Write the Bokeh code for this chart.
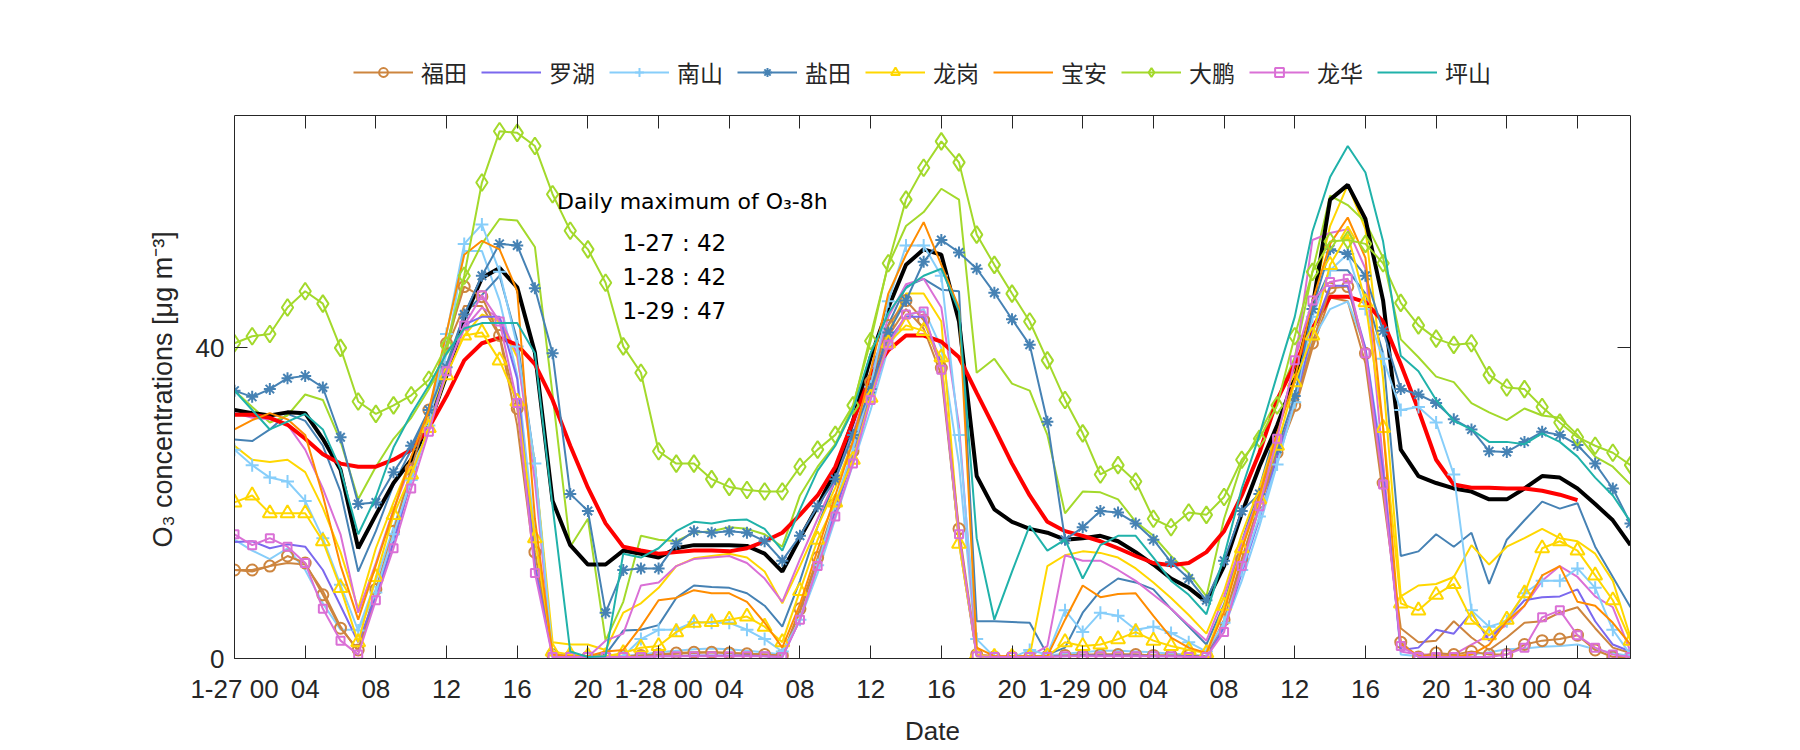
import math
from bokeh.plotting import figure
from bokeh.models import (ColumnDataSource, FixedTicker, LinearAxis, Legend,
                          LegendItem, Range1d, Label, Title)
from bokeh.embed import file_html
from bokeh.resources import INLINE

# ---------------- data (hours since 1-27 00:00) ----------------
hours = list(range(80))

fu_tian = [11.4, 11.4, 11.9, 13.2, 12.3, 8.2, 3.9, 1.1, 8.9, 16.4, 24.4, 32.0, 40.6, 47.9, 46.6, 41.6, 32.2, 13.7, 0.5, 0.2,
           0.2, 0.2, 0.3, 0.4, 0.5, 0.7, 0.8, 0.8, 0.7, 0.6, 0.5, 0.4, 6.4, 13.0, 19.9, 26.7, 35.6, 42.9, 46.1, 43.6,
           37.4, 16.7, 0.5, 0.2, 0.2, 0.2, 0.3, 0.4, 0.4, 0.5, 0.5, 0.5, 0.4, 0.4, 0.4, 0.3, 5.0, 12.8, 20.1, 26.5,
           32.6, 40.6, 47.7, 47.9, 39.3, 22.6, 2.1, 0.2, 0.7, 0.5, 0.9, 0.5, 0.5, 1.8, 2.3, 2.5, 3.0, 1.1, 0.2, 0.2]
luo_hu = [15.0, 15.1, 14.2, 14.7, 14.4, 11.4, 6.8, 2.1, 8.0, 15.0, 23.0, 30.0, 37.0, 43.0, 44.0, 44.0, 36.0, 12.0, 0.3, 0.2,
          0.2, 0.2, 0.2, 0.2, 0.3, 0.3, 0.4, 0.4, 0.4, 0.4, 0.3, 0.2, 5.0, 12.0, 19.0, 26.0, 34.0, 41.0, 44.0, 44.0,
          38.0, 15.0, 0.3, 0.2, 0.2, 0.2, 0.3, 0.3, 0.4, 0.4, 0.4, 0.4, 0.3, 0.3, 0.3, 0.2, 4.0, 11.0, 18.0, 26.0,
          33.0, 42.0, 48.0, 48.0, 40.0, 24.0, 1.1, 1.4, 3.7, 3.2, 5.9, 2.3, 5.0, 7.5, 7.9, 8.0, 8.9, 4.8, 1.8, 0.9]
nan_shan = [26.9, 24.9, 23.3, 22.8, 20.3, 15.5, 9.5, 3.6, 8.5, 16.0, 23.0, 30.0, 41.8, 53.4, 55.9, 49.8, 40.2, 25.1, 0.5, 0.3,
            0.2, 0.2, 0.3, 2.5, 3.7, 3.7, 4.7, 4.6, 4.6, 3.7, 2.5, 0.9, 5.0, 12.0, 20.0, 27.0, 35.0, 46.0, 53.2, 53.2,
            49.3, 28.8, 2.5, 0.2, 0.1, 1.1, 0.5, 6.2, 3.4, 5.9, 5.5, 3.7, 4.1, 3.3, 2.1, 0.9, 4.6, 11.4, 18.3, 25.0,
            33.0, 44.0, 50.0, 52.1, 45.0, 38.6, 32.0, 32.4, 30.4, 23.7, 6.2, 4.1, 4.8, 8.4, 10.0, 10.0, 11.6, 9.1, 3.7, 0.5]
yan_tian = [34.5, 33.7, 34.7, 36.1, 36.4, 34.9, 28.5, 19.9, 20.1, 24.0, 27.4, 32.0, 37.5, 44.3, 49.3, 53.4, 53.2, 47.7, 39.3, 21.2,
            19.0, 5.9, 11.4, 11.6, 11.6, 14.8, 16.4, 16.2, 16.4, 16.2, 15.1, 12.6, 15.8, 19.6, 23.1, 28.8, 34.7, 42.0, 46.1, 51.1,
            53.9, 52.3, 50.2, 47.1, 43.7, 40.4, 30.5, 15.3, 16.9, 19.0, 18.8, 17.4, 15.3, 12.4, 10.3, 7.5, 12.6, 19.0, 21.2, 27.0,
            33.8, 45.0, 52.7, 52.1, 49.3, 42.2, 34.7, 34.0, 32.9, 30.8, 29.5, 26.7, 26.6, 27.9, 29.2, 28.8, 27.5, 25.1, 21.9, 17.4]
long_gang = [20.1, 21.0, 18.7, 18.7, 18.7, 15.1, 9.1, 2.1, 10.5, 18.5, 23.7, 29.7, 36.5, 41.6, 42.0, 38.4, 33.1, 15.5, 0.9, 0.5,
             0.3, 0.3, 0.7, 1.4, 1.6, 3.4, 4.6, 4.7, 5.0, 5.4, 4.1, 2.1, 8.7, 15.3, 20.1, 25.6, 33.6, 40.6, 42.9, 42.2,
             38.8, 14.8, 0.5, 0.2, 0.2, 0.2, 0.3, 2.1, 1.6, 1.8, 2.5, 3.4, 2.3, 1.6, 1.1, 0.7, 6.8, 14.2, 20.5, 27.4,
             35.6, 41.6, 50.7, 54.6, 45.9, 29.7, 7.1, 6.2, 8.2, 9.6, 5.0, 3.0, 5.0, 8.4, 14.2, 15.1, 13.9, 10.7, 7.5, 2.3]
bao_an = [29.5, 30.7, 31.6, 30.8, 28.8, 21.0, 12.0, 5.0, 12.0, 19.0, 26.0, 32.0, 42.0, 52.0, 53.8, 52.7, 47.3, 18.0, 0.5, 0.3,
          0.3, 0.9, 1.1, 4.1, 7.5, 7.8, 8.8, 8.4, 8.4, 7.3, 4.6, 1.4, 7.0, 14.0, 21.0, 28.0, 37.0, 47.0, 52.0, 56.2,
          50.7, 45.2, 1.4, 0.3, 0.3, 0.3, 0.3, 5.0, 9.4, 7.9, 8.3, 8.4, 5.5, 2.7, 1.4, 0.7, 6.0, 14.0, 21.0, 29.0,
          36.0, 46.0, 53.4, 56.8, 51.6, 29.7, 1.8, 0.3, 0.3, 0.3, 0.5, 1.8, 4.8, 6.8, 10.7, 11.9, 7.3, 6.8, 4.6, 1.8]
da_peng = [40.6, 41.5, 41.8, 45.2, 47.3, 45.7, 40.0, 33.1, 31.5, 32.6, 33.9, 35.9, 40.3, 49.3, 61.3, 67.9, 67.7, 66.0, 59.8, 55.1,
           52.7, 48.4, 40.2, 36.8, 26.7, 25.1, 25.1, 23.1, 22.1, 21.7, 21.5, 21.5, 24.7, 26.9, 28.8, 32.6, 40.9, 50.9, 59.1, 63.2,
           66.6, 63.9, 54.6, 50.7, 47.0, 43.4, 38.4, 33.3, 29.0, 23.7, 24.9, 22.8, 18.0, 16.9, 18.8, 18.5, 20.8, 25.6, 28.3, 32.6,
           41.5, 49.8, 53.7, 53.9, 53.4, 50.9, 45.8, 42.9, 41.2, 40.4, 40.6, 36.5, 34.9, 34.7, 32.4, 30.4, 28.5, 27.4, 26.5, 24.9]
long_hua = [16.0, 14.6, 15.5, 14.4, 12.3, 6.4, 2.3, 0.5, 7.5, 14.2, 21.9, 29.2, 37.0, 42.9, 46.8, 43.4, 32.9, 11.0, 0.2, 0.2,
            0.2, 0.2, 0.2, 0.2, 0.3, 0.3, 0.3, 0.3, 0.3, 0.3, 0.3, 0.2, 5.0, 11.9, 18.3, 25.1, 33.3, 40.4, 44.3, 44.7,
            37.2, 16.0, 0.3, 0.2, 0.2, 0.2, 0.2, 0.3, 0.3, 0.3, 0.3, 0.3, 0.3, 0.3, 0.2, 0.2, 3.4, 11.9, 19.6, 28.3,
            38.4, 46.1, 48.5, 48.9, 39.3, 22.4, 1.6, 0.2, 0.2, 0.2, 0.2, 0.2, 0.5, 1.4, 5.3, 6.2, 3.0, 1.4, 0.5, 0.2]
ping_shan = [34.5, 32.0, 29.5, 30.5, 31.5, 29.5, 24.4, 16.0, 20.8, 27.2, 31.5, 35.2, 39.3, 42.5, 43.2, 43.2, 43.2, 39.3, 19.6, 0.9,
             0.2, 0.3, 13.5, 13.0, 14.2, 16.4, 17.6, 17.4, 17.8, 17.9, 16.7, 13.9, 19.2, 24.2, 27.4, 32.0, 39.3, 44.5, 47.7, 49.3,
             50.2, 44.7, 15.5, 5.0, 11.2, 17.1, 13.9, 15.3, 10.3, 14.6, 15.8, 15.8, 13.0, 10.0, 8.2, 5.7, 13.2, 21.9, 28.8, 36.5,
             44.0, 55.0, 62.0, 66.0, 62.6, 53.7, 39.0, 37.0, 33.3, 30.6, 29.5, 27.9, 27.9, 27.6, 29.0, 27.9, 26.0, 23.3, 21.0, 17.6]

# second set of station curves (plain lines, same colours)
da_peng_2 = [34.5, 32.4, 30.4, 31.3, 34.0, 33.3, 28.0, 20.5, 24.7, 28.3, 31.0, 34.7, 39.7, 48.9, 53.4, 56.6, 56.4, 53.0, 34.0, 14.4,
             18.0, 2.3, 7.3, 15.8, 15.3, 15.1, 16.2, 16.4, 16.9, 16.7, 16.0, 14.4, 21.0, 24.7, 27.6, 32.4, 41.6, 50.7, 55.7, 57.5,
             60.5, 59.1, 36.8, 38.6, 35.4, 34.5, 28.8, 18.7, 21.5, 21.4, 20.5, 17.6, 15.8, 13.2, 11.0, 8.0, 18.0, 25.1, 29.0, 33.3,
             38.8, 49.8, 59.6, 58.4, 56.2, 51.6, 41.1, 38.8, 36.3, 35.6, 32.9, 31.7, 30.7, 32.2, 31.3, 31.0, 28.8, 26.0, 24.7, 22.4]
yan_tian_2 = [28.2, 28.0, 29.5, 31.5, 30.6, 27.4, 21.5, 11.2, 16.4, 22.4, 26.9, 32.0, 37.9, 44.3, 46.8, 49.3, 41.0, 25.0, 0.5, 0.3,
              0.3, 0.5, 3.6, 3.7, 4.3, 7.8, 9.4, 9.2, 9.1, 8.4, 6.8, 4.1, 10.0, 17.0, 23.0, 30.0, 37.0, 43.0, 47.9, 48.9,
              47.5, 47.3, 4.8, 4.8, 4.7, 4.6, 0.5, 1.4, 5.9, 8.7, 10.3, 9.8, 8.9, 6.4, 4.1, 1.8, 7.0, 15.0, 22.0, 30.0,
              37.0, 45.0, 50.0, 50.0, 47.0, 39.3, 13.2, 13.8, 16.0, 14.4, 16.2, 9.6, 15.3, 17.8, 20.2, 19.3, 20.0, 14.4, 10.5, 6.6]
long_gang_2 = [27.4, 25.6, 25.3, 25.6, 24.0, 19.4, 13.7, 6.4, 14.2, 20.1, 25.6, 31.0, 37.0, 41.6, 44.3, 43.4, 38.8, 25.0, 2.1, 1.8,
               1.8, 1.1, 5.9, 7.1, 9.1, 11.9, 12.9, 13.2, 13.5, 13.0, 11.2, 7.1, 11.9, 17.0, 22.0, 28.0, 35.0, 42.0, 47.0, 47.0,
               43.4, 15.5, 0.5, 0.3, 0.3, 0.3, 11.9, 13.3, 13.8, 13.6, 13.0, 11.6, 9.8, 7.8, 5.6, 3.2, 8.7, 16.0, 22.0, 29.0,
               37.0, 46.0, 55.7, 61.0, 55.3, 36.0, 8.0, 9.4, 9.6, 10.5, 14.6, 12.1, 14.4, 15.5, 16.7, 15.5, 15.1, 13.5, 10.0, 2.7]
long_hua_2 = [31.6, 31.0, 30.8, 30.1, 26.9, 21.9, 16.0, 5.9, 12.3, 19.2, 25.1, 30.6, 36.5, 42.5, 45.2, 43.8, 39.3, 22.8, 0.2, 0.2,
              0.2, 2.3, 3.2, 9.4, 9.8, 11.9, 12.8, 13.0, 13.2, 12.3, 10.3, 7.3, 12.8, 18.0, 23.0, 29.0, 36.0, 44.0, 48.2, 48.9,
              45.2, 30.0, 0.5, 0.3, 0.3, 0.3, 1.6, 13.3, 12.6, 12.6, 11.4, 10.0, 8.2, 6.4, 4.3, 2.3, 8.0, 15.0, 21.0, 29.0,
              37.9, 53.9, 54.8, 55.3, 50.2, 25.1, 0.9, 0.5, 0.5, 0.5, 1.8, 3.0, 4.3, 6.8, 10.0, 11.9, 10.5, 8.0, 6.6, 0.9]
nan_shan_2 = [15.3, 13.9, 12.8, 14.2, 11.4, 7.1, 3.7, 3.7, 10.0, 16.9, 23.7, 30.6, 39.3, 52.5, 52.5, 46.1, 36.5, 16.0, 0.2, 0.2,
              0.2, 0.3, 0.3, 0.5, 0.8, 1.0, 1.2, 1.3, 1.2, 1.0, 0.8, 0.5, 5.0, 11.0, 18.0, 25.0, 32.0, 40.0, 44.0, 45.0,
              40.0, 25.0, 0.5, 0.3, 0.3, 0.3, 0.4, 0.6, 0.8, 1.0, 1.0, 0.9, 0.8, 0.6, 0.5, 0.3, 4.0, 10.0, 17.0, 25.0,
              33.0, 41.0, 45.0, 46.0, 40.0, 25.0, 0.5, 0.3, 0.3, 0.3, 0.5, 0.8, 1.2, 1.3, 1.5, 1.6, 1.8, 1.2, 0.7, 0.3]
fu_tian_2 = [11.4, 11.2, 11.9, 12.3, 12.1, 8.7, 4.1, 0.9, 8.0, 15.0, 23.0, 31.0, 40.0, 45.4, 45.4, 41.5, 30.0, 12.0, 0.5, 0.3,
             0.3, 0.3, 0.3, 0.4, 0.5, 0.6, 0.7, 0.8, 0.7, 0.6, 0.5, 0.4, 6.0, 12.5, 19.5, 26.0, 34.5, 41.5, 45.0, 42.5,
             36.5, 15.5, 0.4, 0.3, 0.3, 0.3, 0.3, 0.4, 0.5, 0.5, 0.5, 0.5, 0.4, 0.4, 0.4, 0.3, 4.5, 12.0, 19.5, 26.0,
             32.0, 40.0, 46.5, 46.0, 38.0, 21.0, 3.9, 2.1, 2.3, 4.8, 2.7, 1.1, 2.7, 4.6, 4.8, 5.9, 6.6, 3.9, 1.4, 0.7]

black_mean = [32.0, 31.6, 31.3, 31.7, 31.6, 28.3, 24.3, 14.2, 18.5, 22.6, 25.6, 30.0, 36.5, 43.8, 49.0, 50.3, 47.8, 39.4, 20.3, 14.6,
              12.1, 12.1, 13.9, 13.5, 13.0, 14.2, 14.6, 14.6, 14.6, 14.5, 13.5, 11.2, 15.5, 19.6, 24.2, 30.6, 38.8, 45.2, 50.7, 52.7,
              52.0, 43.4, 23.5, 19.2, 17.6, 16.7, 16.2, 15.3, 15.5, 15.8, 15.1, 13.7, 12.1, 10.3, 9.1, 7.3, 11.9, 18.7, 24.7, 30.0,
              36.0, 45.2, 59.1, 61.0, 56.6, 46.1, 26.9, 23.5, 22.6, 21.9, 21.5, 20.5, 20.5, 21.9, 23.5, 23.3, 21.9, 19.9, 17.8, 14.6]
red_8h = [31.4, 31.4, 31.0, 30.1, 28.3, 26.3, 25.1, 24.7, 24.7, 25.6, 26.9, 29.7, 33.8, 38.4, 40.6, 41.3, 40.4, 37.9, 33.3, 27.4,
          22.0, 17.4, 14.4, 13.9, 13.5, 13.7, 13.9, 13.9, 13.8, 14.2, 15.1, 16.2, 18.5, 21.0, 24.7, 30.6, 36.5, 39.7, 41.6, 41.6,
          40.8, 38.8, 34.2, 29.7, 25.1, 21.0, 17.6, 16.4, 15.8, 15.1, 14.2, 13.2, 12.3, 12.0, 12.3, 13.7, 16.4, 21.0, 26.5, 33.3,
          37.9, 42.5, 46.6, 46.6, 45.9, 43.4, 37.9, 32.0, 25.6, 22.4, 22.0, 22.0, 21.9, 21.9, 21.6, 21.1, 20.4]

station_names = ["福田", "罗湖", "南山", "盐田", "龙岗", "宝安", "大鹏", "龙华", "坪山"]
station_values = [fu_tian, luo_hu, nan_shan, yan_tian, long_gang, bao_an, da_peng, long_hua, ping_shan]
second_values = [fu_tian_2, None, nan_shan_2, yan_tian_2, long_gang_2, None, da_peng_2, long_hua_2, None]

tick_hours = list(range(0, 80, 4))
tick_labels = ["1-27 00", "04", "08", "12", "16", "20",
               "1-28 00", "04", "08", "12", "16", "20",
               "1-29 00", "04", "08", "12", "16", "20",
               "1-30 00", "04"]
y_ticks = [0, 40]
x_lim = (0, 79)
y_lim = (0, 70)

max_dates = ["1-27", "1-28", "1-29"]
max_values = [42, 42, 47]

# ---------------- styling ----------------
colors = ["#CD853F", "#7B68EE", "#87CEFA", "#4682B4", "#FFD700",
          "#FF8C00", "#A3D92B", "#DA70D6", "#20B2AA"]
markers = ["circle", None, "cross", "asterisk", "triangle", None, "diamond", "square", None]
msizes = [11, 0, 13, 12, 14, 0, 17, 8, 0]

AX = "#262626"
TICK_FONT = "Liberation Sans"

# frame extends above the axes box so that the legend can sit there
W, H = 1784, 748
BL, BR, BT, BB = 234, 154, 37, 86
box_top, box_bottom = 115, H - BB          # page y of y=70 and y=0
px_per_unit = (box_bottom - box_top) / (y_lim[1] - y_lim[0])
y_top = y_lim[1] + (box_top - BT) / px_per_unit

p = figure(width=W, height=H, output_backend="svg", toolbar_location=None,
           x_range=Range1d(*x_lim), y_range=Range1d(y_lim[0], y_top),
           min_border_left=BL, min_border_right=BR, min_border_top=BT,
           min_border_bottom=BB)
p.xgrid.visible = False
p.ygrid.visible = False
p.outline_line_color = None

# bottom axis
xa = p.xaxis[0]
xa.ticker = FixedTicker(ticks=tick_hours)
xa.major_label_overrides = {h: lab for h, lab in zip(tick_hours, tick_labels)}
# left axis
ya = p.yaxis[0]
ya.ticker = FixedTicker(ticks=y_ticks)
ya.bounds = y_lim

for ax in (xa, ya):
    ax.axis_line_color = AX
    ax.major_tick_line_color = AX
    ax.major_tick_in = 13
    ax.major_tick_out = 0
    ax.minor_tick_line_color = None
    ax.major_label_text_font = TICK_FONT
    ax.major_label_text_font_size = "26px"
    ax.major_label_text_color = AX
    ax.axis_label_text_font = TICK_FONT
    ax.axis_label_text_font_style = "normal"
    ax.axis_label_text_color = AX
xa.major_label_standoff = 15
xa.axis_label = "Date"
xa.axis_label_text_font_size = "26px"
xa.axis_label_standoff = 9
ya.major_label_standoff = 10

# y-axis title, centred on the axes box (not on the taller frame)
ylab = Title(text="O\u2083 concentrations [\u03bcg m\u207b\u00b3]",
             align="left", offset=111, vertical_align="bottom", standoff=30,
             text_font=TICK_FONT, text_font_size="27px",
             text_font_style="normal", text_color=AX)
p.add_layout(ylab, "left")

# box: top edge with inward ticks at y = 70, right edge with inward ticks
top_ax = LinearAxis(ticker=FixedTicker(ticks=tick_hours),
                    major_label_overrides={h: "" for h in tick_hours},
                    fixed_location=y_lim[1])
right_ax = LinearAxis(ticker=FixedTicker(ticks=y_ticks),
                      major_label_overrides={t: "" for t in y_ticks},
                      bounds=y_lim)
for ax in (top_ax, right_ax):
    ax.axis_line_color = AX
    ax.major_tick_line_color = AX
    ax.major_tick_in = 13
    ax.major_tick_out = 0
    ax.minor_tick_line_color = None
    ax.major_label_text_font_size = "1px"
    ax.major_label_standoff = 0
p.add_layout(top_ax, "above")
p.add_layout(right_ax, "right")

# second (plain) curves
for vals, col in zip(second_values, colors):
    if vals is None:
        continue
    p.line(hours, vals, line_color=col, line_width=2)

# black and red summary curves
p.line(hours, black_mean, line_color="black", line_width=4)
p.line(hours[:len(red_8h)], red_8h, line_color="red", line_width=4)

# station curves with legend
items = []
for name, vals, col, mk, ms in zip(station_names, station_values, colors, markers, msizes):
    src = ColumnDataSource(dict(x=hours, y=vals))
    rs = [p.line("x", "y", source=src, line_color=col, line_width=2)]
    if mk is not None:
        rs.append(p.scatter("x", "y", source=src, marker=mk, size=ms,
                            line_color=col, line_width=2, fill_color=None))
    items.append(LegendItem(label=name, renderers=rs))

legend = Legend(items=items, orientation="horizontal",
                location=(119, 569),
                glyph_width=60, glyph_height=22, label_standoff=8, spacing=14,
                padding=4, margin=0, border_line_color=None,
                background_fill_alpha=0,
                label_text_font="Noto Sans CJK SC", label_text_font_size="23px",
                label_text_color="#262626")
p.add_layout(legend, "center")

# annotation
ANN_FONT = "DejaVu Sans"
p.add_layout(Label(x=18.25, y=58.8, text="Daily maximum of O\u2083-8h",
                   text_font=ANN_FONT, text_font_size="22px",
                   text_baseline="middle", text_color="black"))
for i, (d, v) in enumerate(zip(max_dates, max_values)):
    p.add_layout(Label(x=21.95, y=53.5 - 4.4 * i, text=f"{d} : {v}",
                       text_font=ANN_FONT, text_font_size="23px",
                       text_baseline="middle", text_color="black"))

open("out.html", "w").write(file_html(p, INLINE))
